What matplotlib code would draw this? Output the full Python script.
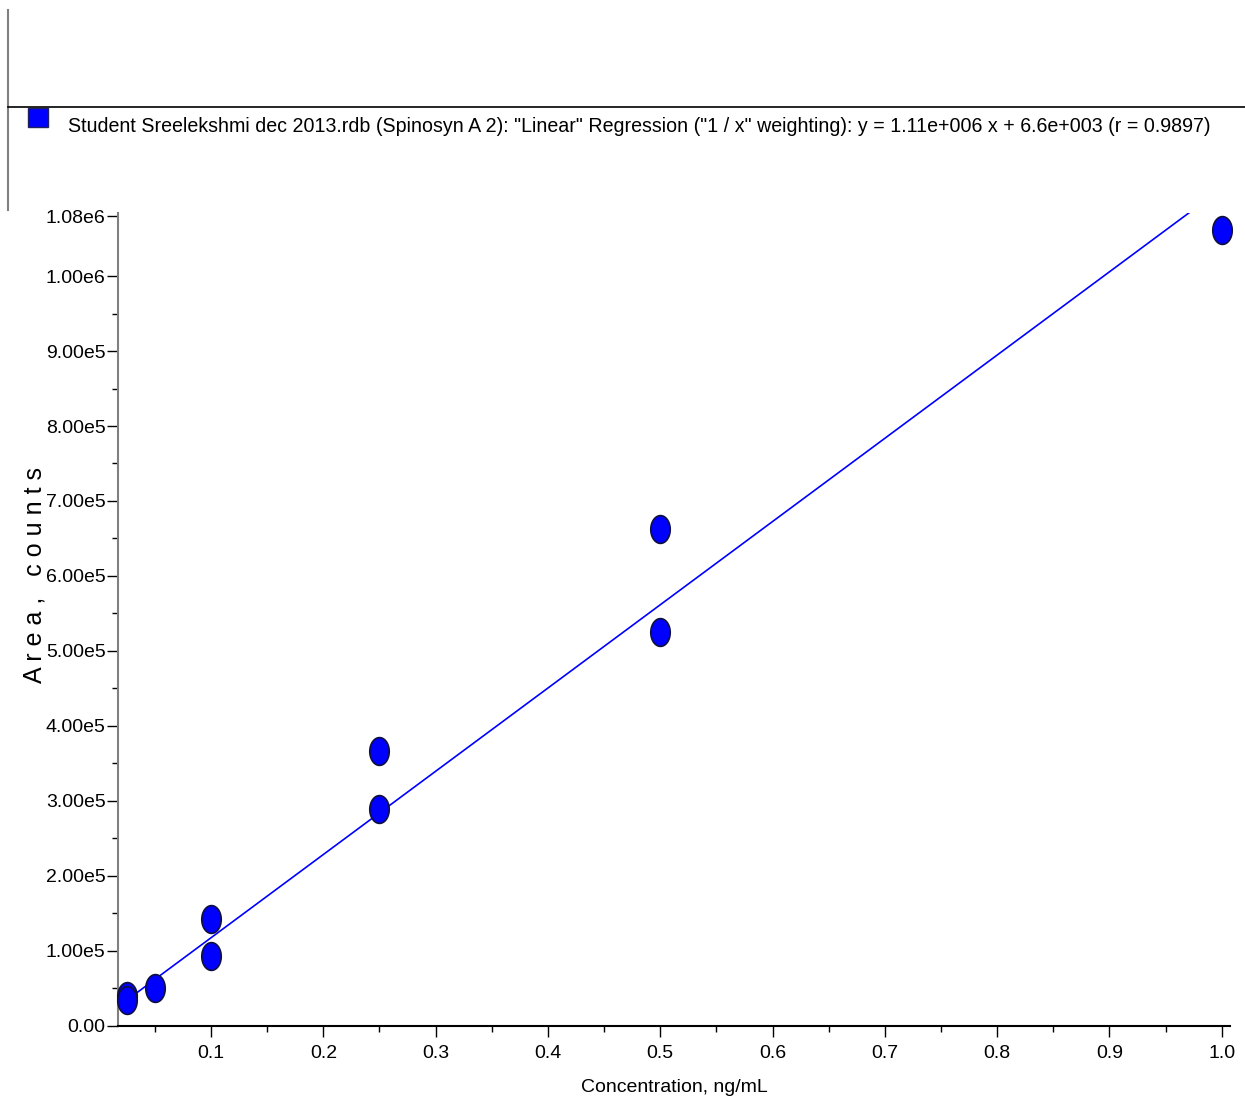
import numpy as np
import matplotlib.pyplot as plt
from matplotlib.path import Path
from matplotlib.lines import Line2D

plt.rcParams['font.family'] = ['Liberation Sans', 'DejaVu Sans']

# calibration points (concentration, area)
conc = [0.025, 0.025, 0.05, 0.1, 0.1, 0.25, 0.25, 0.5, 0.5, 1.0]
area = [40000, 34700, 50700, 142700, 93300, 366700, 289300, 662700, 525300, 1061300]

# regression from the software: y = 1.11e6 x + 6.6e3
slope = 1.11e6
intercept = 6.6e3

y_ticks = [0, 1e5, 2e5, 3e5, 4e5, 5e5, 6e5, 7e5, 8e5, 9e5, 1e6, 1.08e6]
y_labels = ['0.00', '1.00e5', '2.00e5', '3.00e5', '4.00e5', '5.00e5', '6.00e5',
            '7.00e5', '8.00e5', '9.00e5', '1.00e6', '1.08e6']
x_ticks = [0.1, 0.2, 0.3, 0.4, 0.5, 0.6, 0.7, 0.8, 0.9, 1.0]
x_labels = ['0.1', '0.2', '0.3', '0.4', '0.5', '0.6', '0.7', '0.8', '0.9', '1.0']

legend_text = ('Student Sreelekshmi dec 2013.rdb (Spinosyn A 2): "Linear" Regression '
               '("1 / x" weighting): y = 1.11e+006 x + 6.6e+003 (r = 0.9897)')

# elliptical marker, taller than wide
t = np.linspace(0, 2 * np.pi, 60)
ellipse = Path(np.column_stack([0.7 * np.cos(t), np.sin(t)]), closed=True)

fig = plt.figure(figsize=(12.45, 11.02), dpi=100)
ax = fig.add_axes([0.0948, 0.069, 0.8932, 0.7377])

xmin, xmax = 0.0172, 1.0074
xs = np.array([xmin, xmax])
ax.plot(xs, slope * xs + intercept, color='#0000ff', lw=1.2, zorder=2)
ax.plot(conc, area, ls='none', marker=ellipse, ms=20, mfc='#0000ff',
        mec='#101040', mew=1.2, zorder=3, clip_on=False)

ax.set_xlim(xmin, xmax)
ax.set_ylim(0, 1.084e6)
ax.set_xticks(x_ticks)
ax.set_xticklabels(x_labels)
ax.set_xticks(np.arange(0.05, 1.0, 0.1), minor=True)
ax.set_yticks(y_ticks)
ax.set_yticklabels(y_labels)
ax.set_yticks(np.arange(5e4, 1.05e6, 1e5), minor=True)

ax.tick_params(which='major', length=8, width=1, labelsize=14)
ax.tick_params(axis='y', which='major', pad=1)
ax.tick_params(axis='x', which='major', pad=6)
ax.tick_params(which='minor', length=4, width=1)
ax.spines['top'].set_visible(False)
ax.spines['right'].set_visible(False)
ax.spines['left'].set_color('#808080')
ax.spines['left'].set_linewidth(1.5)
ax.spines['bottom'].set_linewidth(1.5)

ax.set_xlabel('Concentration, ng/mL', fontsize=14, labelpad=12)
fig.text(0.028, 0.478, 'A r e a ,   c o u n t s', rotation=90, fontsize=18,
         ha='center', va='center')

# header frame and legend entry
fig.add_artist(Line2D([8 / 1245, 8 / 1245], [1 - 10 / 1102, 1 - 210 / 1102],
                      color='#808080', lw=1.5))
fig.add_artist(Line2D([8 / 1245, 1.0], [1 - 107 / 1102, 1 - 107 / 1102],
                      color='black', lw=1.2))
fig.add_artist(plt.Rectangle((28 / 1245, 1 - 127 / 1102), 20 / 1245, 19 / 1102,
                             facecolor='#0000ff', edgecolor='#202060', lw=1))
fig.text(68 / 1245, 1 - 126 / 1102, legend_text, fontsize=14.1, ha='left', va='center')

plt.savefig('out.png', dpi=100)
